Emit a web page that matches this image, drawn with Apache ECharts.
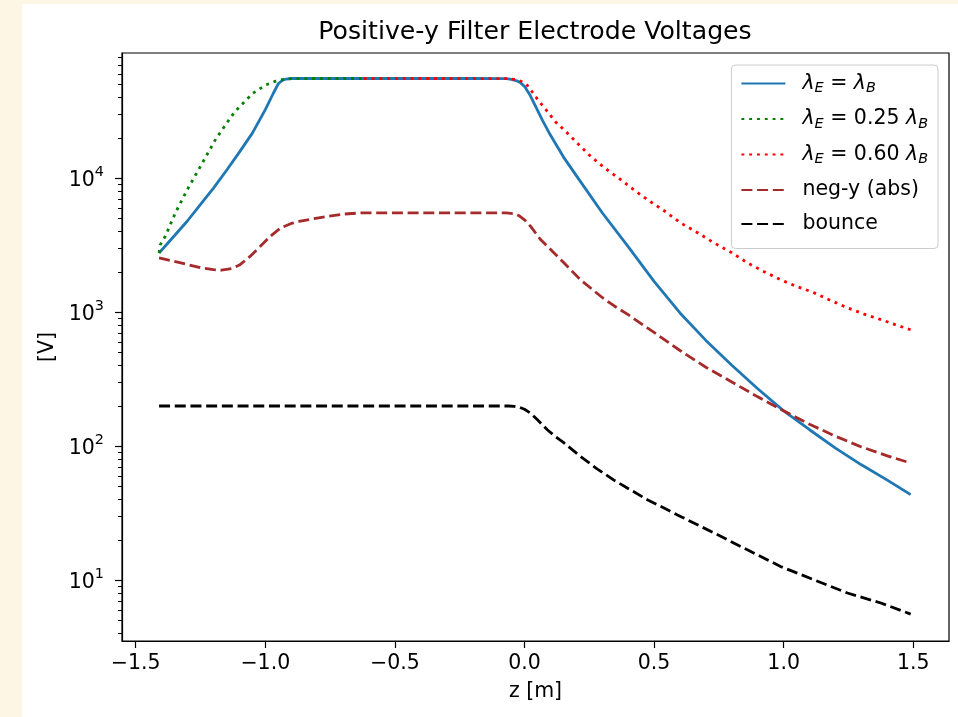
<!DOCTYPE html>
<html>
<head>
<meta charset="utf-8">
<script src="https://cdn.jsdelivr.net/npm/echarts@6/dist/echarts.min.js"></script>
<style>
html,body{margin:0;padding:0;background:#fdf6e4;width:958px;height:717px;overflow:hidden;}
#chart{position:absolute;left:22px;top:4px;width:936px;height:713px;background:#ffffff;}
</style>
</head>
<body>
<div id="chart"></div>
<script>
// ---- data (z in m, voltage in V) ----
var eqZ = [-1.41,-1.35,-1.30,-1.25,-1.20,-1.15,-1.10,-1.05,-1.00,-0.97,-0.95,-0.935,-0.92,-0.90,-0.80,-0.60,-0.40,-0.20,-0.07,-0.05,-0.03,-0.015,0.00,0.02,0.04,0.07,0.10,0.15,0.20,0.30,0.40,0.50,0.60,0.70,0.80,0.90,1.00,1.10,1.20,1.30,1.40,1.49];
var eqV = [2770,3740,4820,6380,8450,11430,15670,21700,32500,42700,50700,53600,55000,55500,55500,55500,55500,55500,55400,54700,53300,51500,48500,42200,35300,26900,21000,14450,10470,5530,3090,1700,989,617,403,269,184,133,97,72.8,56,43.6];

var q25Z = [-1.41,-1.405,-1.386,-1.347,-1.30,-1.25,-1.19,-1.12,-1.05,-1.00,-0.96,-0.93,-0.90,-0.80,-0.62];
var q25V = [2770,3200,3690,5520,8300,12300,19800,31000,42800,49500,53000,54800,55400,55500,55500];

var q60Z = [-0.62,-0.40,-0.20,-0.06,-0.03,-0.01,0.01,0.03,0.05,0.088,0.12,0.165,0.21,0.255,0.31,0.371,0.42,0.474,0.54,0.602,0.67,0.731,0.80,0.860,0.92,0.988,1.05,1.117,1.18,1.246,1.31,1.375,1.43,1.49];
var q60V = [55500,55500,55500,55300,54400,52500,49500,44000,38900,31600,26300,21800,17800,14600,11900,9780,8250,6930,5700,4650,3900,3300,2780,2340,2030,1750,1560,1400,1230,1080,970,883,810,741];

var negZ = [-1.41,-1.30,-1.25,-1.20,-1.17,-1.13,-1.10,-1.06,-1.02,-0.98,-0.94,-0.90,-0.865,-0.80,-0.76,-0.70,-0.63,-0.40,-0.20,-0.07,-0.04,-0.02,0.00,0.023,0.062,0.088,0.12,0.15,0.216,0.30,0.345,0.40,0.474,0.50,0.60,0.70,0.80,0.90,1.00,1.10,1.20,1.30,1.40,1.49];
var negV = [2550,2270,2150,2080,2060,2120,2250,2600,3100,3700,4270,4600,4780,5050,5200,5400,5520,5520,5520,5510,5440,5250,4900,4390,3490,3110,2700,2360,1750,1290,1120,960,765,708,519,389,302,234,184,146,119,99,85,75];

var bncZ = [-1.41,-1.00,-0.50,-0.06,-0.04,-0.02,0.00,0.023,0.05,0.088,0.12,0.15,0.216,0.28,0.345,0.474,0.602,0.731,0.860,0.988,1.117,1.246,1.375,1.49];
var bncV = [200,200,200,200,199,196,189,177,158,133,118,107,84,68,56,40,30,22.6,16.9,12.7,10.1,8.05,6.78,5.6];

var xTicks = [-1.5,-1.0,-0.5,0.0,0.5,1.0,1.5];
var yTicks = [10,100,1000,10000];
var yMinorTicks = [4,5,6,7,8,9,20,30,40,50,60,70,80,90,200,300,400,500,600,700,800,900,2000,3000,4000,5000,6000,7000,8000,9000,20000,30000,40000,50000,60000,70000,80000];

var titleText = 'Positive-y Filter Electrode Voltages';
var xName = 'z [m]';
var yName = '[V]';
var seriesNames = ['eq','q25','q60','neg','bounce'];

function zip(a,b){ return a.map(function(v,i){ return [v,b[i]]; }); }

var FONT = 'DejaVu Sans';
var FS = 20.5;
var legendLabels = {
  eq: '{i|λ}{sub|E}{n| = }{i|λ}{sub|B}',
  q25: '{i|λ}{sub|E}{n| = 0.25 }{i|λ}{sub|B}',
  q60: '{i|λ}{sub|E}{n| = 0.60 }{i|λ}{sub|B}',
  neg: '{p|neg-y (abs)}',
  bounce: '{p|bounce}'
};

var chart = echarts.init(document.getElementById('chart'), null, {renderer:'canvas'});

var LW = 2.8, DASH = [11, 4.7], DOT = [2.9, 4.9];
function lineSeries(name, z, v, color, type, zz){
  return {name: name, type: 'line', data: zip(z, v), showSymbol: false, symbol: 'none', smooth: false,
    lineStyle: {color: color, width: LW, type: type}, itemStyle: {color: color}, z: zz};
}

var option = {
  backgroundColor: '#ffffff',
  animation: false,
  title: {
    text: titleText,
    left: 508, top: 11, textAlign: 'center',
    textStyle: {fontFamily: FONT, fontSize: 25.2, fontWeight: 'normal', color: '#000'}
  },
  grid: {left: 100, top: 49, right: 9, bottom: 76, show: true, borderColor: '#000', borderWidth: 1.2, backgroundColor: '#fff'},
  legend: {
    orient: 'vertical', right: 20, top: 61,
    data: seriesNames,
    itemWidth: 44, itemHeight: 1, itemGap: 13,
    padding: [8, 10, 14, 9],
    itemStyle: {opacity: 0},
    backgroundColor: 'rgba(255,255,255,0.8)', borderColor: '#cccccc', borderWidth: 1, borderRadius: 4,
    formatter: function(n){ return '{g| }' + legendLabels[n]; },
    textStyle: {
      fontFamily: FONT, fontSize: FS, color: '#000',
      rich: {
        g: {width: 12, lineHeight: 24},
        i: {fontFamily: FONT, fontStyle: 'italic', fontSize: FS, lineHeight: 24},
        sub: {fontFamily: FONT, fontStyle: 'italic', fontSize: 14.4, lineHeight: 24, verticalAlign: 'bottom'},
        n: {fontFamily: FONT, fontSize: FS, lineHeight: 24},
        p: {fontFamily: FONT, fontSize: FS, lineHeight: 24}
      }
    }
  },
  xAxis: {
    type: 'value', min: -1.553, max: 1.638,
    name: xName, nameLocation: 'middle', nameGap: 40,
    nameTextStyle: {fontFamily: FONT, fontSize: FS, color: '#000'},
    splitLine: {show: false},
    axisLine: {show: true, onZero: false, lineStyle: {color: '#000', width: 1.2}},
    axisTick: {show: true, length: 7, lineStyle: {color: '#000', width: 1.2}, customValues: xTicks},
    axisLabel: {
      customValues: xTicks, margin: 12,
      fontFamily: FONT, fontSize: FS, color: '#000',
      formatter: function(v){ return v.toFixed(1).replace('-', '\u2212'); }
    }
  },
  yAxis: [{
    type: 'log', min: 3.53, max: 86000, logBase: 10,
    name: yName, nameLocation: 'middle', nameGap: 63,
    nameTextStyle: {fontFamily: FONT, fontSize: FS, color: '#000'},
    splitLine: {show: false},
    axisLine: {show: true, onZero: false, lineStyle: {color: '#000', width: 1.2}},
    axisTick: {show: true, length: 7, lineStyle: {color: '#000', width: 1.2}, customValues: yTicks},
    minorTick: {show: false},
    axisLabel: {
      customValues: yTicks, margin: 18,
      formatter: function(v){ var e = Math.round(Math.log10(v)); return '{b|10}{s|' + e + '}'; },
      rich: {
        b: {fontFamily: FONT, fontSize: FS, lineHeight: 26, color: '#000', verticalAlign: 'bottom'},
        s: {fontFamily: FONT, fontSize: 14.4, lineHeight: 26, color: '#000', verticalAlign: 'top'}
      }
    }
  },{
    type: 'log', min: 3.53, max: 86000, logBase: 10, position: 'left',
    splitLine: {show: false},
    axisLine: {show: false, onZero: false},
    axisTick: {show: true, length: 4, lineStyle: {color: '#000', width: 1}, customValues: yMinorTicks},
    axisLabel: {show: false, customValues: yMinorTicks}
  }],
  series: [
    lineSeries('eq', eqZ, eqV, '#1f77b4', 'solid', 2),
    lineSeries('q25', q25Z, q25V, '#008000', DOT, 3),
    lineSeries('q60', q60Z, q60V, '#ff0000', DOT, 4),
    lineSeries('neg', negZ, negV, '#a52a2a', DASH, 5),
    lineSeries('bounce', bncZ, bncV, '#000000', DASH, 6)
  ]
};
chart.setOption(option);
</script>
</body>
</html>
